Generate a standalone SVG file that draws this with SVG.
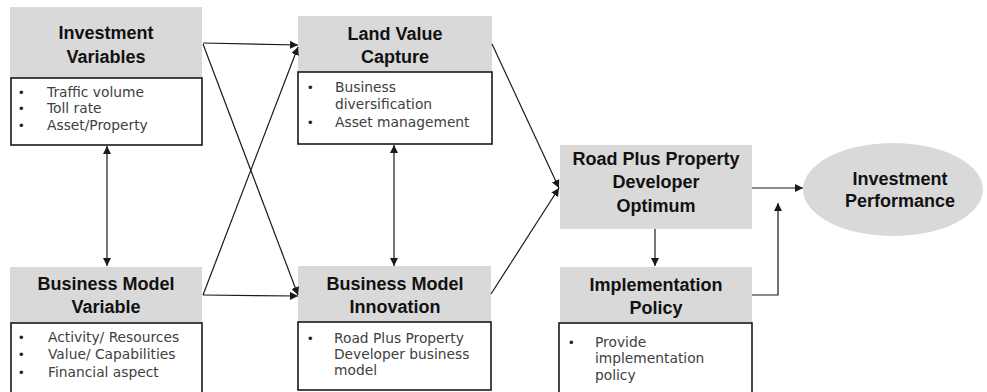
<svg xmlns="http://www.w3.org/2000/svg" width="987" height="392" viewBox="0 0 987 392">
<style>
.hd{fill:#d9d9d9;stroke:none}
.bx{fill:#fff;stroke:#1a1a1a;stroke-width:1.6}
.t{font-family:"Liberation Sans",Arial,sans-serif;font-weight:bold;font-size:18px;fill:#111;text-anchor:middle}
.b{font-family:"DejaVu Sans","Liberation Sans",sans-serif;font-size:13.8px;fill:#404040}
.d{font-family:"Liberation Sans",Arial,sans-serif;font-size:13px;fill:#222}
.c{fill:none;stroke:#1a1a1a;stroke-width:1.2}
</style>
<defs>
<marker id="ah" viewBox="0 0 10 10" refX="10" refY="5" markerWidth="8" markerHeight="8" markerUnits="userSpaceOnUse" orient="auto-start-reverse">
<path d="M0,0 L10,5 L0,10 z" fill="#1a1a1a"/>
</marker>
</defs>
<rect width="987" height="392" fill="#fff"/>
<g id="investment-variables">
<rect class="hd" x="10" y="7" width="192" height="71"/>
<rect class="bx" x="11" y="78" width="191" height="67"/>
<text class="t" x="106" y="39">Investment</text>
<text class="t" x="106" y="63">Variables</text>
<text class="d" x="19" y="97">•</text><text class="b" x="47" y="97">Traffic volume</text>
<text class="d" x="19" y="113">•</text><text class="b" x="47" y="113">Toll rate</text>
<text class="d" x="19" y="130">•</text><text class="b" x="47" y="130">Asset/Property</text>
</g>
<g id="land-value-capture">
<rect class="hd" x="298" y="16" width="194" height="56"/>
<rect class="bx" x="298" y="72" width="194" height="72"/>
<text class="t" x="395" y="40">Land Value</text>
<text class="t" x="395" y="63">Capture</text>
<text class="d" x="308" y="92">•</text><text class="b" x="335" y="92">Business</text>
<text class="b" x="335" y="109">diversification</text>
<text class="d" x="308" y="127">•</text><text class="b" x="335" y="127">Asset management</text>
</g>
<g id="business-model-variable">
<rect class="hd" x="10" y="267" width="192" height="56"/>
<rect class="bx" x="11" y="323" width="191" height="72"/>
<text class="t" x="106" y="290">Business Model</text>
<text class="t" x="106" y="313">Variable</text>
<text class="d" x="19" y="342">•</text><text class="b" x="48" y="342">Activity/ Resources</text>
<text class="d" x="19" y="359">•</text><text class="b" x="48" y="359">Value/ Capabilities</text>
<text class="d" x="19" y="377">•</text><text class="b" x="48" y="377">Financial aspect</text>
</g>
<g id="business-model-innovation">
<rect class="hd" x="298" y="266" width="193" height="56"/>
<rect class="bx" x="298" y="322" width="193" height="68"/>
<text class="t" x="395" y="290">Business Model</text>
<text class="t" x="395" y="313">Innovation</text>
<text class="d" x="308" y="343">•</text><text class="b" x="334" y="343">Road Plus Property</text>
<text class="b" x="334" y="359">Developer business</text>
<text class="b" x="334" y="375">model</text>
</g>
<g id="road-plus-property-developer-optimum">
<rect class="hd" x="560" y="145" width="192" height="84"/>
<text class="t" x="656" y="165">Road Plus Property</text>
<text class="t" x="656" y="188">Developer</text>
<text class="t" x="656" y="212">Optimum</text>
</g>
<g id="implementation-policy">
<rect class="hd" x="560" y="267" width="192" height="56"/>
<rect class="bx" x="559" y="323" width="193" height="72"/>
<text class="t" x="656" y="291">Implementation</text>
<text class="t" x="656" y="314">Policy</text>
<text class="d" x="569" y="347">•</text><text class="b" x="595" y="347">Provide</text>
<text class="b" x="595" y="363">implementation</text>
<text class="b" x="595" y="380">policy</text>
</g>
<g id="investment-performance">
<ellipse cx="893" cy="189.5" rx="90" ry="46.5" fill="#d9d9d9"/>
<text class="t" x="900" y="185">Investment</text>
<text class="t" x="900" y="207">Performance</text>
</g>
<g id="connectors">
<line class="c" x1="203" y1="43" x2="298" y2="45" marker-end="url(#ah)"/>
<line class="c" x1="203" y1="44" x2="298" y2="295" marker-end="url(#ah)"/>
<line class="c" x1="203" y1="295" x2="298" y2="47" marker-end="url(#ah)"/>
<line class="c" x1="203" y1="295" x2="298" y2="296" marker-end="url(#ah)"/>
<line class="c" x1="107" y1="146" x2="107" y2="266" marker-start="url(#ah)" marker-end="url(#ah)"/>
<line class="c" x1="394" y1="145" x2="394" y2="266" marker-start="url(#ah)" marker-end="url(#ah)"/>
<line class="c" x1="492" y1="44" x2="559" y2="188" marker-end="url(#ah)"/>
<line class="c" x1="491" y1="294" x2="559" y2="188" marker-end="url(#ah)"/>
<line class="c" x1="655" y1="229" x2="655" y2="266" marker-end="url(#ah)"/>
<line class="c" x1="752" y1="188" x2="803" y2="188" marker-end="url(#ah)"/>
<polyline class="c" points="752,295 778,295 778,203" marker-end="url(#ah)"/>
</g>
</svg>
